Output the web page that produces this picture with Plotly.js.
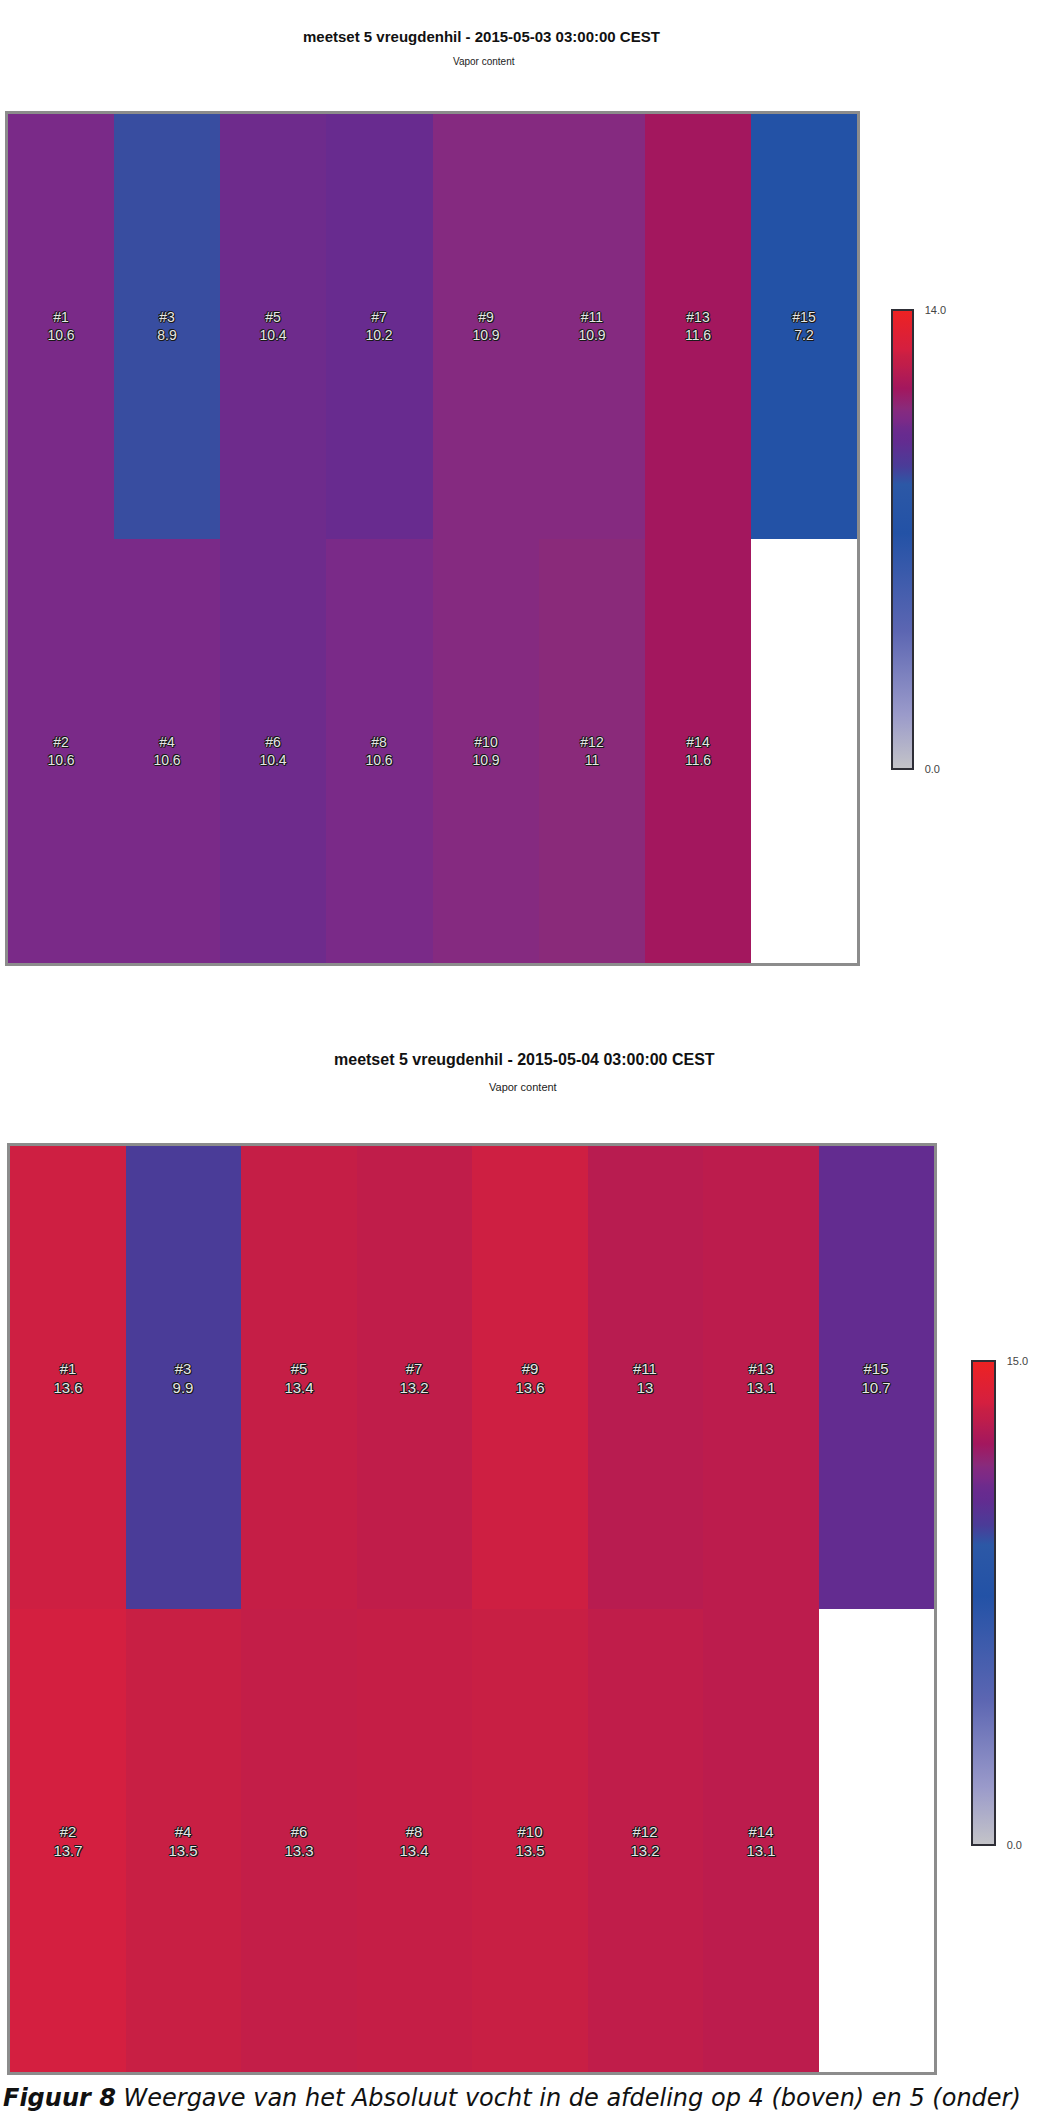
<!DOCTYPE html>
<html>
<head>
<meta charset="utf-8">
<script src="https://cdn.plot.ly/plotly-3.0.1.min.js"></script>
<style>
  html, body { margin: 0; padding: 0; background: #ffffff; overflow: hidden; }
  #chart { width: 1053px; height: 2115px; }
</style>
</head>
<body>
<div id="chart"></div>
<script>
// ---- data ----
const sensorsTopRow = [1, 3, 5, 7, 9, 11, 13, 15];
const sensorsBottomRow = [2, 4, 6, 8, 10, 12, 14, null];

const day1Title = "meetset 5 vreugdenhil - 2015-05-03 03:00:00 CEST";
const day1TopRow = [10.6, 8.9, 10.4, 10.2, 10.9, 10.9, 11.6, 7.2];
const day1BottomRow = [10.6, 10.6, 10.4, 10.6, 10.9, 11, 11.6, null];
const day1Max = 14;

const day2Title = "meetset 5 vreugdenhil - 2015-05-04 03:00:00 CEST";
const day2TopRow = [13.6, 9.9, 13.4, 13.2, 13.6, 13, 13.1, 10.7];
const day2BottomRow = [13.7, 13.5, 13.3, 13.4, 13.5, 13.2, 13.1, null];
const day2Max = 15;

const subtitle = "Vapor content";
const caption = "<b>Figuur 8</b> Weergave van het Absoluut vocht in de afdeling op 4 (boven) en 5 (onder)";

// ---- style ----
const W = 1053, H = 2115;
const px = v => v / W;
const py = v => 1 - v / H;

const scale = [
  [0.0, '#c4c4c8'],
  [0.12, '#9a9aca'],
  [0.30, '#5c66b2'],
  [0.514, '#2352a6'],
  [0.62, '#2c58a6'],
  [0.66, '#4a3c98'],
  [0.713, '#632c90'],
  [0.729, '#682b8f'],
  [0.743, '#6e2b8c'],
  [0.757, '#7a2a88'],
  [0.779, '#852a80'],
  [0.786, '#8a2a7a'],
  [0.829, '#a3175e'],
  [0.867, '#b81c50'],
  [0.88, '#c01d4a'],
  [0.9, '#c81f44'],
  [0.913, '#d41f40'],
  [1.0, '#ee2222']
];

const outline = '1px 0 0 #1a1a1a, -1px 0 0 #1a1a1a, 0 1px 0 #1a1a1a, 0 -1px 0 #1a1a1a, 1px 1px 0 #1a1a1a, -1px -1px 0 #1a1a1a';

function cellLabels(sensors, vals) {
  return sensors.map((s, i) => (s === null || vals[i] === null) ? '' : '#' + s + '<br>' + vals[i]);
}

function heat(topVals, bottomVals, zmax, xa, ya, fontSize, cb) {
  return {
    type: 'heatmap',
    z: [bottomVals, topVals],
    text: [cellLabels(sensorsBottomRow, bottomVals), cellLabels(sensorsTopRow, topVals)],
    texttemplate: '%{text}',
    textfont: { family: 'Liberation Sans, Arial, sans-serif', size: fontSize, color: '#e6e6e6', shadow: outline },
    zmin: 0, zmax: zmax,
    colorscale: scale,
    xaxis: xa, yaxis: ya,
    hoverongaps: false,
    colorbar: Object.assign({
      xref: 'paper', yref: 'paper', xanchor: 'left', yanchor: 'middle',
      lenmode: 'pixels', thicknessmode: 'pixels',
      xpad: 0, ypad: 0,
      outlinewidth: 2, outlinecolor: '#2e2e36',
      ticks: 'outside', ticklen: 9, tickcolor: 'rgba(0,0,0,0)',
      tickvals: [0, zmax],
      ticktext: ['0.0', zmax.toFixed(1)],
      tickfont: { family: 'Liberation Sans, Arial, sans-serif', size: 11, color: '#444' }
    }, cb)
  };
}

const traces = [
  heat(day1TopRow, day1BottomRow, day1Max, 'x', 'y', 14,
       { x: px(892), y: py(540), len: 459, thickness: 21 }),
  heat(day2TopRow, day2BottomRow, day2Max, 'x2', 'y2', 15,
       { x: px(972), y: py(1603), len: 484, thickness: 23 })
];

const axisBase = {
  showgrid: false, zeroline: false, showticklabels: false, ticks: '',
  showline: true, mirror: true, linecolor: '#8c8c8c', linewidth: 3, fixedrange: true
};

const layout = {
  width: W, height: H,
  margin: { l: 0, r: 0, t: 0, b: 0 },
  paper_bgcolor: '#ffffff', plot_bgcolor: '#ffffff',
  showlegend: false,
  xaxis: Object.assign({}, axisBase, { domain: [px(8), px(857)], range: [-0.5, 7.5], anchor: 'y' }),
  yaxis: Object.assign({}, axisBase, { domain: [py(963), py(114)], range: [-0.5, 1.5], anchor: 'x' }),
  xaxis2: Object.assign({}, axisBase, { domain: [px(10), px(934)], range: [-0.5, 7.5], anchor: 'y2' }),
  yaxis2: Object.assign({}, axisBase, { domain: [py(2072), py(1146)], range: [-0.5, 1.5], anchor: 'x2' }),
  annotations: [
    { text: day1Title, xref: 'paper', yref: 'paper', x: px(481), y: py(36), xanchor: 'center', yanchor: 'middle',
      showarrow: false, font: { family: 'Liberation Sans, Arial, sans-serif', size: 15, weight: 'bold', color: '#111' } },
    { text: subtitle, xref: 'paper', yref: 'paper', x: px(484), y: py(61), xanchor: 'center', yanchor: 'middle',
      showarrow: false, font: { family: 'Liberation Sans, Arial, sans-serif', size: 10, color: '#222' } },
    { text: day2Title, xref: 'paper', yref: 'paper', x: px(524), y: py(1060), xanchor: 'center', yanchor: 'middle',
      showarrow: false, font: { family: 'Liberation Sans, Arial, sans-serif', size: 16, weight: 'bold', color: '#111' } },
    { text: subtitle, xref: 'paper', yref: 'paper', x: px(523), y: py(1087), xanchor: 'center', yanchor: 'middle',
      showarrow: false, font: { family: 'Liberation Sans, Arial, sans-serif', size: 11, color: '#222' } },
    { text: caption, xref: 'paper', yref: 'paper', x: px(1), y: py(2098), xanchor: 'left', yanchor: 'middle',
      showarrow: false, align: 'left',
      font: { family: 'DejaVu Sans, Verdana, sans-serif', size: 24, style: 'italic', color: '#111' } }
  ]
};

Plotly.newPlot('chart', traces, layout, { staticPlot: true, displayModeBar: false });
</script>
</body>
</html>
